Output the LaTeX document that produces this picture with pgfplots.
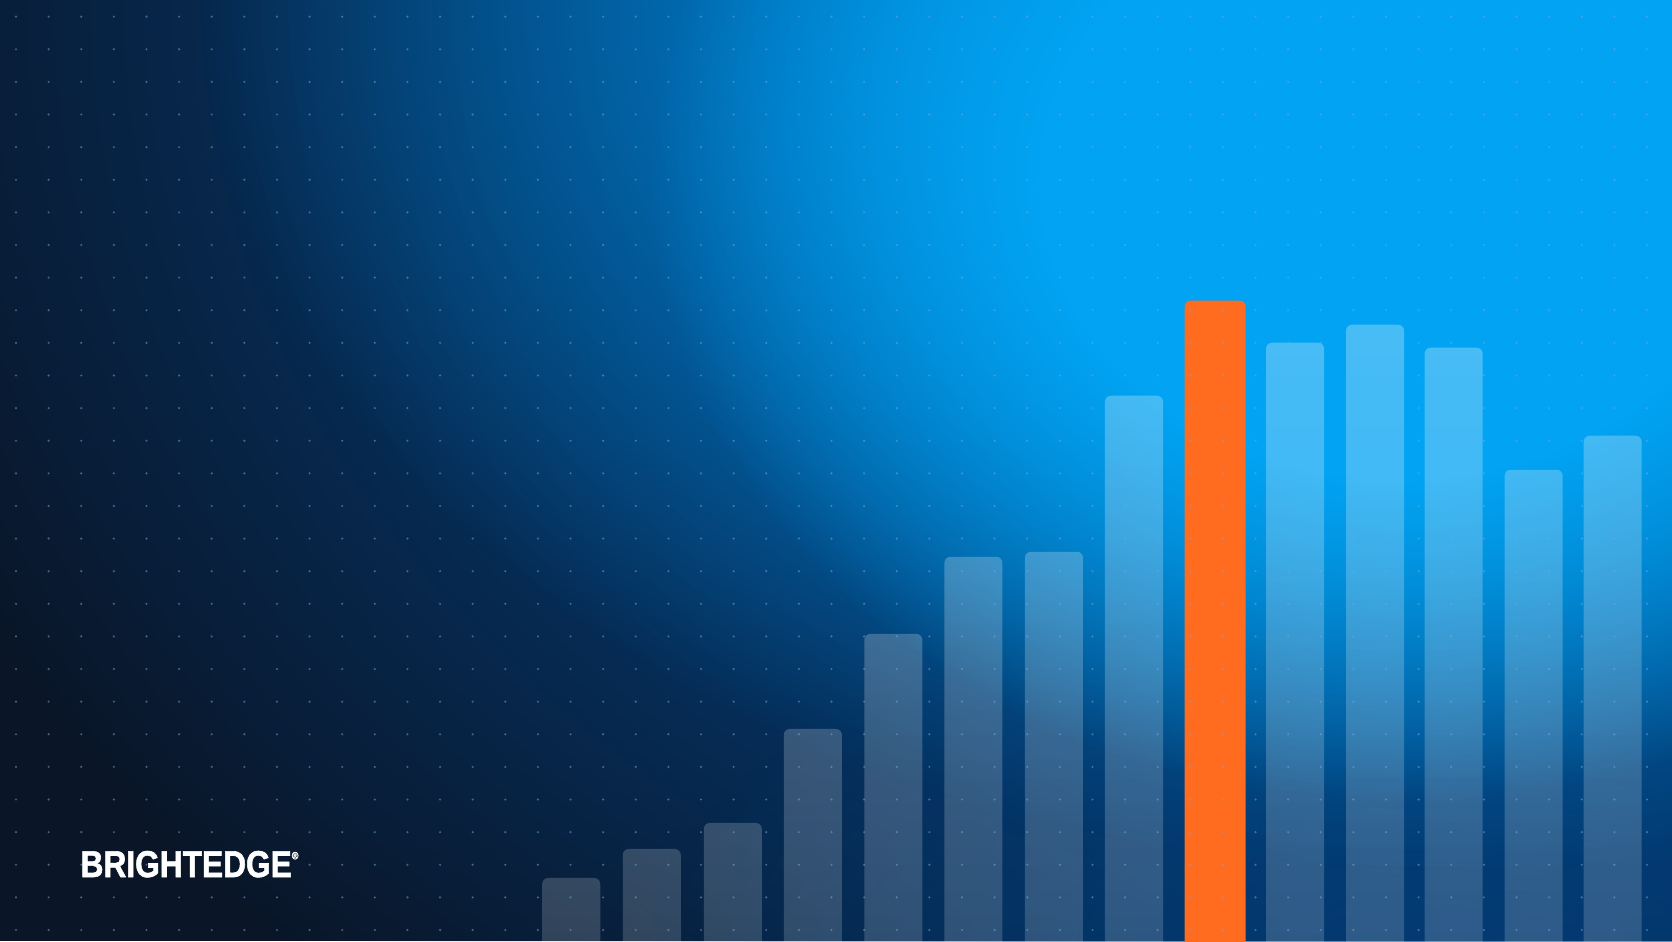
\documentclass[border=0pt]{standalone}
\usepackage{pgfplots}
\pgfplotsset{compat=1.18}
\usepackage{fontspec}
\setmainfont{Liberation Sans}
\newfontfamily\logofont{Liberation Sans}[BoldFeatures={FakeBold=1.6}]
\usetikzlibrary{fadings,patterns.meta}

\definecolor{navy}{HTML}{0A1628}
\definecolor{glowA}{HTML}{0050A0}
\definecolor{glowB}{HTML}{0098E8}
\definecolor{glowC}{HTML}{02A3F2}
\definecolor{glowD}{HTML}{004A90}
\definecolor{barorange}{HTML}{FF6B1F}
\definecolor{dotcol}{HTML}{78AADC}

\pgfdeclareradialshading{softshade}{\pgfpointorigin}{%
  color(0bp)=(pgftransparent!0); color(10bp)=(pgftransparent!25);
  color(25bp)=(pgftransparent!100); color(50bp)=(pgftransparent!100)}
\pgfdeclarefading{soft}{\pgfuseshading{softshade}}
\pgfdeclareradialshading{plateaushade}{\pgfpointorigin}{%
  color(0bp)=(pgftransparent!0); color(12bp)=(pgftransparent!0);
  color(25bp)=(pgftransparent!100); color(50bp)=(pgftransparent!100)}
\pgfdeclarefading{plateau}{\pgfuseshading{plateaushade}}
\pgfdeclareverticalshading{barshade}{100bp}{%
  color(0bp)=(pgftransparent!40); color(25bp)=(pgftransparent!40);
  color(75bp)=(pgftransparent!0); color(100bp)=(pgftransparent!0)}
\pgfdeclarefading{barfade}{\pgfuseshading{barshade}}

% bar tops measured in image pixels above a baseline 12 px below the picture
\pgfplotstableread{
x h
571 75
651.5 104
732.5 130
812.5 224
893 319
973 396
1053.5 401
1133.5 557
1294.5 610
1374.5 628
1453 605
1533 483
1612 517
}\bluebars
\pgfplotstableread{
x h
1214.5 652
}\orangebar

\begin{document}
\begin{tikzpicture}[x=0.01cm,y=0.01cm]
\useasboundingbox (0,0) rectangle (1672,941);
\clip (0,0) rectangle (1672,941);
\fill[navy] (0,0) rectangle (1672,941);
\fill[glowA, path fading=soft, fit fading=true] (1500,941) ellipse [x radius=1700, y radius=1350];
\fill[glowD, path fading=soft, fit fading=true, fill opacity=0.5] (1450,0) ellipse [x radius=800, y radius=350];
\fill[glowB, path fading=soft, fit fading=true] (1450,941) ellipse [x radius=1250, y radius=870];
\fill[glowC, path fading=plateau, fit fading=true] (1400,760) ellipse [x radius=750, y radius=620];

\begin{axis}[
  at={(0,-12)}, anchor=south west,
  scale only axis, width=16.72cm, height=9.53cm,
  xmin=0, xmax=1672, ymin=0, ymax=953,
  hide axis, clip=true,
  ybar, bar width=58, bar shift=0pt,
]
\addplot[fill=white, fill opacity=0.28, draw=none, rounded corners=0.06cm,
         path fading=barfade, fit fading=true] table[x=x,y=h] {\bluebars};
\addplot[fill=barorange, draw=none, rounded corners=0.06cm, bar width=61] table[x=x,y=h] {\orangebar};
\end{axis}

\fill[pattern={Dots[distance=0.326cm, radius=0.012cm, xshift=0.16cm, yshift=0.11cm]}, pattern color=dotcol, fill opacity=0.5] (0,0) rectangle (1672,941);

\node[anchor=base west, inner sep=0pt, text=white, xscale=0.85,
      font=\fontsize{10.6}{12}\logofont\bfseries] at (80,64)
  {BRIGHTEDGE\raisebox{0.9ex}{\fontsize{3}{3}\selectfont ®}};
\end{tikzpicture}
\end{document}
